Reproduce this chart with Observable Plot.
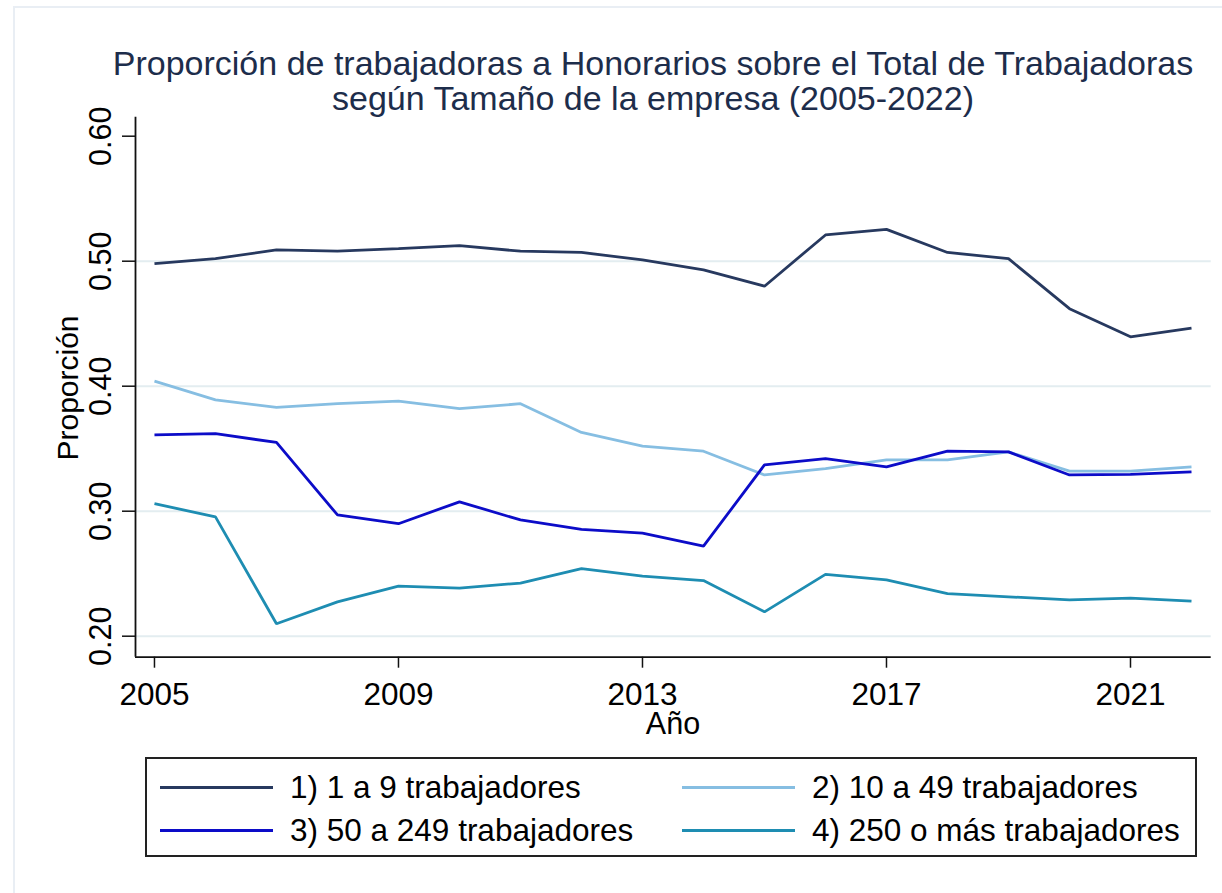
<!DOCTYPE html>
<html>
<head>
<meta charset="utf-8">
<script src="https://cdn.jsdelivr.net/npm/d3@7"></script>
<script src="https://cdn.jsdelivr.net/npm/@observablehq/plot@0.6"></script>
<style>
  body { margin: 0; background: #fff; font-family: "Liberation Sans", Arial, sans-serif; }
  #wrap { position: relative; width: 1222px; height: 893px; overflow: hidden; background: #fff; }
  #frame { position: absolute; left: 13px; top: 6px; width: 1260px; height: 920px; border-left: 2px solid #e9eef4; border-top: 2px solid #e9eef4; }
  #title { position: absolute; left: 0; width: 1306px; top: 45.5px; text-align: center; font-size: 34px; line-height: 35px; color: #1d2d4b; }
  #chart { position: absolute; left: 0; top: 110px; }
  #ylab { position: absolute; left: 68px; top: 388px; font-size: 30px; color: #000; transform: translate(-50%, -50%) rotate(-90deg); white-space: nowrap; }
  #xlab { position: absolute; left: 673px; top: 706px; font-size: 30.5px; color: #000; transform: translateX(-50%); white-space: nowrap; line-height: 35px; }
  #legend { position: absolute; left: 145px; top: 757px; width: 1048px; height: 96px; border: 2px solid #222; }
  .item { position: absolute; height: 40px; font-size: 31.5px; line-height: 40px; color: #000; white-space: nowrap; }
  .sw { position: absolute; top: 18.5px; width: 113px; height: 3.5px; }
  .lt { position: absolute; top: 0; }
</style>
</head>
<body>
<div id="wrap">
  <div id="frame"></div>
  <div id="title">Proporción de trabajadoras a Honorarios sobre el Total de Trabajadoras<br>según Tamaño de la empresa (2005-2022)</div>
  <div id="chart"></div>
  <div id="ylab">Proporción</div>
  <div id="xlab">Año</div>
  <div id="legend"></div>
</div>
<script>
const years = [2005,2006,2007,2008,2009,2010,2011,2012,2013,2014,2015,2016,2017,2018,2019,2020,2021,2022];
const seriesNames = ["1) 1 a 9 trabajadores", "2) 10 a 49 trabajadores", "3) 50 a 249 trabajadores", "4) 250 o más trabajadores"];
const s1 = [0.498,0.502,0.509,0.508,0.510,0.5125,0.508,0.507,0.501,0.493,0.480,0.521,0.5255,0.507,0.502,0.462,0.4395,0.4465];
const s2 = [0.404,0.389,0.383,0.386,0.388,0.382,0.386,0.363,0.352,0.348,0.329,0.334,0.341,0.341,0.3475,0.332,0.332,0.3355];
const s3 = [0.361,0.362,0.355,0.297,0.290,0.3075,0.293,0.2855,0.2825,0.272,0.337,0.342,0.3355,0.348,0.3475,0.329,0.3295,0.3315];
const s4 = [0.306,0.2955,0.210,0.2275,0.240,0.2385,0.2425,0.254,0.248,0.2445,0.2195,0.2495,0.245,0.234,0.2315,0.229,0.2305,0.228];
const colors = ["#27395f", "#86bee2", "#0c0cc8", "#1e8db2"];
const yTicks = [0.2, 0.3, 0.4, 0.5, 0.6];
const yGrid = [0.2, 0.3, 0.4, 0.5];
const xTicks = [2005, 2009, 2013, 2017, 2021];
const xDomain = [2004.689, 2022.323];
const yDomain = [0.1832, 0.6152];

const allSeries = [s1, s2, s3, s4];
const rows = [];
allSeries.forEach((vals, i) => vals.forEach((v, j) => rows.push({year: years[j], value: v, series: seriesNames[i]})));

const chart = Plot.plot({
  width: 1222,
  height: 610,
  marginLeft: 135,
  marginRight: 11.3,
  marginTop: 6.7,
  marginBottom: 63.3,
  style: {fontFamily: '"Liberation Sans", Arial, sans-serif', background: "transparent", color: "#000", overflow: "visible"},
  x: {domain: xDomain},
  y: {domain: yDomain},
  color: {domain: seriesNames, range: colors},
  marks: [
    Plot.ruleY(yGrid, {stroke: "#e3edf0", strokeWidth: 2}),
    Plot.line(rows, {x: "year", y: "value", z: "series", stroke: "series", strokeWidth: 2.8, strokeLinejoin: "miter", strokeLinecap: "butt"}),
    Plot.ruleX([xDomain[0]], {stroke: "#111", strokeWidth: 1.8}),
    Plot.ruleY([yDomain[0]], {stroke: "#111", strokeWidth: 1.8}),
    Plot.axisY({ticks: yTicks, tickFormat: d3.format(".2f"), tickSize: 13, tickRotate: -90, tickPadding: 11.3, fontSize: 30.5, label: null, stroke: "#111", strokeWidth: 1.5}),
    Plot.axisX({ticks: xTicks, tickFormat: d3.format("d"), tickSize: 11, tickPadding: 14, fontSize: 31.5, label: null, stroke: "#111", strokeWidth: 1.5})
  ]
});
document.getElementById("chart").appendChild(chart);

// Legend
const legend = document.getElementById("legend");
const pos = [[13, 8], [535, 8], [13, 51], [535, 51]];
seriesNames.forEach((name, i) => {
  const it = document.createElement("div");
  it.className = "item";
  it.style.left = pos[i][0] + "px";
  it.style.top = pos[i][1] + "px";
  const sw = document.createElement("div");
  sw.className = "sw";
  sw.style.left = "0px";
  sw.style.background = colors[i];
  const t = document.createElement("span");
  t.className = "lt";
  t.style.left = "130px";
  t.textContent = name;
  it.appendChild(sw);
  it.appendChild(t);
  legend.appendChild(it);
});
</script>
</body>
</html>
